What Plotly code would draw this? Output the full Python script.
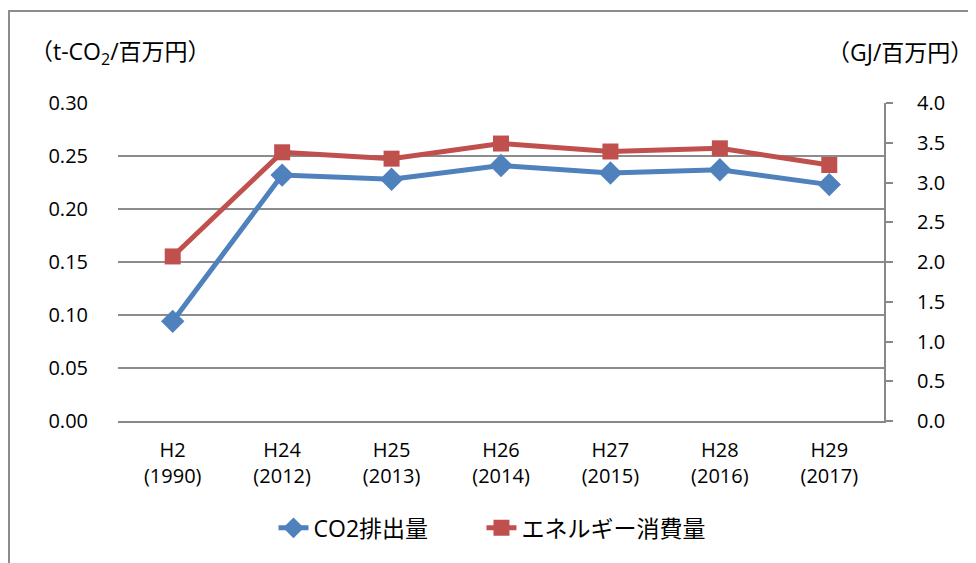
import plotly.graph_objects as go

categories = ["H2<br>(1990)", "H24<br>(2012)", "H25<br>(2013)", "H26<br>(2014)",
              "H27<br>(2015)", "H28<br>(2016)", "H29<br>(2017)"]
co2_values = [0.094, 0.232, 0.228, 0.241, 0.234, 0.237, 0.223]
energy_values = [2.07, 3.38, 3.30, 3.49, 3.39, 3.43, 3.22]
left_ticks = [0.0, 0.05, 0.10, 0.15, 0.20, 0.25, 0.30]
right_ticks = [0.0, 0.5, 1.0, 1.5, 2.0, 2.5, 3.0, 3.5, 4.0]

FONT = "Open Sans, Noto Sans CJK JP, sans-serif"
x = list(range(len(categories)))

fig = go.Figure()
fig.add_trace(go.Scatter(
    x=x, y=co2_values, name="CO2排出量", mode="lines+markers",
    line=dict(color="#4F81BD", width=5),
    marker=dict(symbol="diamond", size=18, color="#4F81BD"),
    yaxis="y", legend="legend"))
fig.add_trace(go.Scatter(
    x=x, y=energy_values, name="エネルギー消費量", mode="lines+markers",
    line=dict(color="#C0504D", width=5),
    marker=dict(symbol="square", size=16, color="#C0504D"),
    yaxis="y2", legend="legend2"))

legend_common = dict(orientation="h", y=-0.336, yanchor="middle", xanchor="left",
                     font=dict(size=23), bgcolor="rgba(0,0,0,0)")

fig.update_layout(
    width=968, height=555,
    margin=dict(l=110, r=92, t=95, b=142),
    paper_bgcolor="white", plot_bgcolor="white",
    font=dict(family=FONT, size=20, color="#000000"),
    showlegend=True,
    legend=dict(x=0.203, **legend_common),
    legend2=dict(x=0.4745, **legend_common),
    xaxis=dict(
        tickmode="array", tickvals=x, ticktext=categories,
        range=[-0.5, len(categories) - 0.5],
        showgrid=False, showline=True, linecolor="#888888", linewidth=2,
        ticks="", ticklabelstandoff=10, zeroline=False, fixedrange=True),
    yaxis=dict(
        range=[0, 0.30], tickvals=left_ticks,
        ticktext=[f"{v:.2f}" for v in left_ticks],
        showgrid=True, gridcolor="#8c8c8c", gridwidth=1.6,
        showline=False, zeroline=False, ticks="", ticklabelstandoff=29),
    yaxis2=dict(
        range=[0, 4.0], tickvals=right_ticks,
        ticktext=[f"{v:.1f}" for v in right_ticks],
        overlaying="y", side="right", showgrid=False,
        showline=True, linecolor="#888888", linewidth=2,
        ticks="outside", ticklen=7, tickcolor="#888888", tickwidth=2,
        zeroline=False, ticklabelstandoff=20),
    annotations=[
        dict(text="（t-CO<sub>2</sub>/百万円）", xref="paper", yref="paper",
             x=-0.1175, y=1.0, xanchor="left", yanchor="middle", yshift=51,
             showarrow=False, font=dict(size=23)),
        dict(text="（GJ/百万円）", xref="paper", yref="paper",
             x=1.119, y=1.0, xanchor="right", yanchor="middle", yshift=51,
             showarrow=False, font=dict(size=23)),
    ],
    shapes=[
        dict(type="rect", xref="paper", yref="paper",
             x0=-0.1423, x1=1.3, y0=-0.7, y1=1.289,
             line=dict(color="#8c8c8c", width=2), fillcolor="rgba(0,0,0,0)",
             layer="below"),
    ],
)

fig.write_html("out.html")
